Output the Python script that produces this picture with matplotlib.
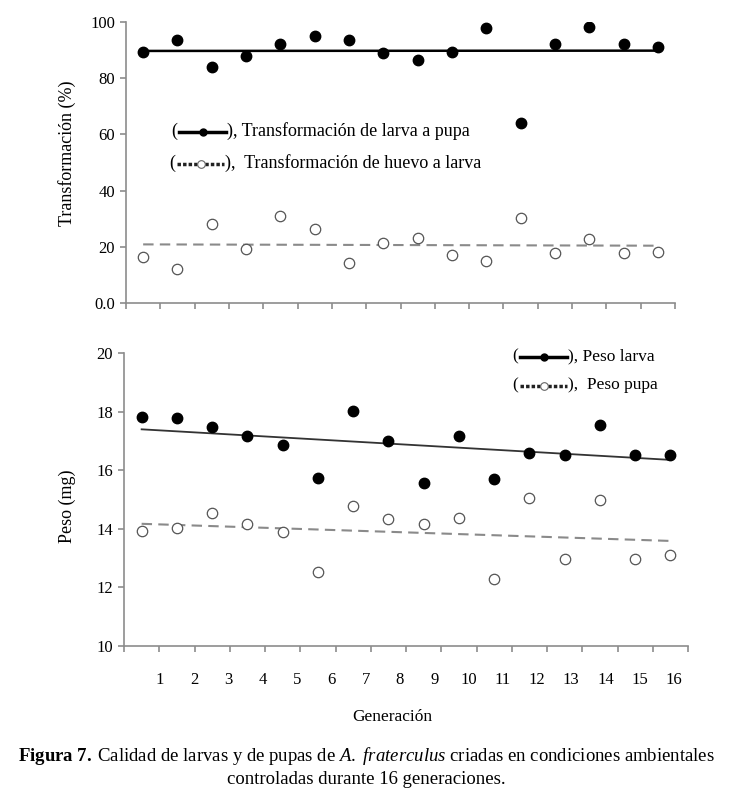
import numpy as np
import matplotlib
matplotlib.use('Agg')
import matplotlib.pyplot as plt
from matplotlib.lines import Line2D

plt.rcParams['font.family'] = ['Liberation Serif', 'DejaVu Serif']
plt.rcParams['mathtext.fontset'] = 'custom'
plt.rcParams['mathtext.rm'] = 'Liberation Serif'
plt.rcParams['mathtext.it'] = 'Liberation Serif:italic'
plt.rcParams['mathtext.bf'] = 'Liberation Serif:bold'

# generaciones 1..16
generacion = list(range(1, 17))

# panel superior: transformacion (%)
larva_pupa = [89.3, 93.5, 84.0, 87.8, 92.3, 95.1, 93.7, 89.0,
              86.6, 89.3, 97.9, 64.1, 92.1, 98.2, 92.1, 91.1]
huevo_larva = [16.3, 12.1, 28.0, 19.2, 30.8, 26.3, 14.2, 21.3,
               23.2, 17.2, 14.9, 30.1, 17.8, 22.8, 17.8, 18.0]

# panel inferior: peso (mg)
peso_larva = [17.83, 17.78, 17.46, 17.18, 16.86, 15.73, 18.02, 17.00,
              15.58, 17.18, 15.69, 16.58, 16.52, 17.53, 16.52, 16.52]
peso_pupa = [13.94, 14.04, 14.53, 14.15, 13.88, 12.51, 14.79, 14.33,
             14.15, 14.36, 12.29, 15.05, 12.98, 14.98, 12.98, 13.09]

W, H = 731, 798
AXC = '#8c8c8c'


def px(x, y):
    """pixeles de la imagen -> fraccion de figura"""
    return x / W, 1 - y / H


def trend(ax, xs, ys, **kw):
    m, b = np.polyfit(xs, ys, 1)
    ax.plot([xs[0], xs[-1]], [m * xs[0] + b, m * xs[-1] + b], **kw)


def style(ax, yticks, ylabels):
    ax.set_xlim(0, 16)
    ax.set_xticks(range(17))
    ax.set_xticklabels([])
    ax.set_yticks(yticks)
    ax.set_yticklabels(ylabels)
    for s in ['top', 'right']:
        ax.spines[s].set_visible(False)
    for s in ['left', 'bottom']:
        ax.spines[s].set_color(AXC)
        ax.spines[s].set_linewidth(1.2)
    ax.tick_params(axis='both', color=AXC, length=4, width=1.2,
                   labelsize=12, pad=4)


def legend_row(fig, x0, y, filled, text, size):
    # "(" + linea con marcador + "), texto"
    fig.text(*px(x0, y), '(', ha='left', va='center', fontsize=size)
    l0, l1 = x0 + 8, x0 + 55
    xa, ya = px(l0, y + 1)
    xb, _ = px(l1, y + 1)
    if filled:
        fig.add_artist(Line2D([xa, xb], [ya, ya], color='black', lw=2.5,
                              transform=fig.transFigure))
        fig.add_artist(Line2D([(xa + xb) / 2], [ya], marker='o', ms=5,
                              color='black', transform=fig.transFigure))
    else:
        fig.add_artist(Line2D([xa, xb], [ya, ya], color='#222222', lw=2.5,
                              ls=(0, (1, 0.6)), transform=fig.transFigure))
        fig.add_artist(Line2D([(xa + xb) / 2], [ya], marker='o', ms=5.5,
                              mfc='white', mec='#666666', mew=0.8, ls='none',
                              transform=fig.transFigure))
    fig.text(*px(l1 + 1, y), text, ha='left', va='center', fontsize=size)


fig = plt.figure(figsize=(W / 100, H / 100), dpi=100)

ax1 = fig.add_axes([126 / W, 1 - 303 / H, 549 / W, 281 / H])
ax2 = fig.add_axes([124 / W, 1 - 646 / H, 564 / W, 293 / H])

xs = np.array(generacion) - 0.5

# panel superior
ax1.plot(xs, larva_pupa, 'o', color='black', ms=7.5, zorder=3)
ax1.plot(xs, huevo_larva, 'o', mfc='white', mec='#555555', mew=0.9, ms=7.5, zorder=3)
trend(ax1, xs, larva_pupa, color='black', lw=1.8)
trend(ax1, xs, huevo_larva, color='#8a8a8a', lw=1.5, ls=(0, (5, 3)))
ax1.set_ylim(0, 100)
style(ax1, [0, 20, 40, 60, 80, 100], ['0.0', '20', '40', '60', '80', '100'])

# panel inferior
ax2.plot(xs, peso_larva, 'o', color='black', ms=7.5, zorder=3)
ax2.plot(xs, peso_pupa, 'o', mfc='white', mec='#555555', mew=0.9, ms=7.5, zorder=3)
trend(ax2, xs, peso_larva, color='#333333', lw=1.3)
trend(ax2, xs, peso_pupa, color='#8a8a8a', lw=1.5, ls=(0, (5, 3)))
ax2.set_ylim(10, 20)
style(ax2, [10, 12, 14, 16, 18, 20], ['10', '12', '14', '16', '18', '20'])

# etiquetas de generacion (en los bordes de categoria, algo desplazadas)
for g in generacion:
    ax2.text(g * 0.972 + 0.05, -0.115, str(g), transform=ax2.get_xaxis_transform(),
             ha='center', va='center', fontsize=12)

fig.text(*px(67, 153), 'Transformación (%)', rotation=90, ha='center',
         va='center', fontsize=13)
fig.text(*px(67, 506), 'Peso (mg)', rotation=90, ha='center',
         va='center', fontsize=13)
fig.text(*px(392, 717), 'Generación', ha='center', va='center', fontsize=12.5)

legend_row(fig, 171, 131, True, '), Transformación de larva a pupa', 13)
legend_row(fig, 169, 163, False, '),  Transformación de huevo a larva', 13)
legend_row(fig, 512, 356, True, '), Peso larva', 12.5)
legend_row(fig, 512, 385, False, '),  Peso pupa', 12.5)

fig.text(*px(366, 756), r'$\bf{Figura\ 7.}\;$Calidad de larvas y de pupas de '
         r'$\it{A.\ fraterculus}$ criadas en condiciones ambientales',
         ha='center', va='center', fontsize=13.5)
fig.text(*px(366, 779), 'controladas durante 16 generaciones.',
         ha='center', va='center', fontsize=13.5)

fig.savefig('out.png', dpi=100)
